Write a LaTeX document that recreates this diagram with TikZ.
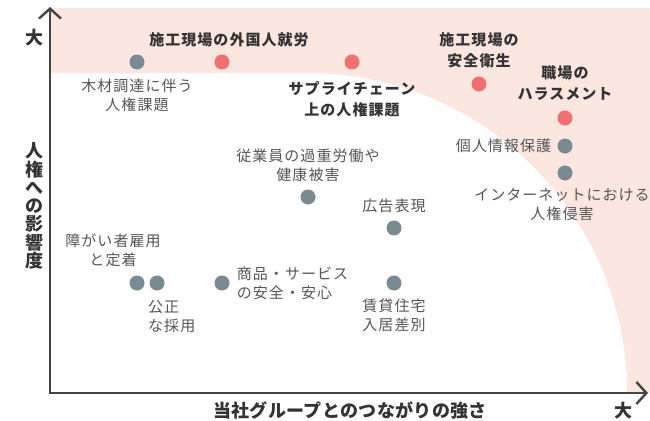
\documentclass[tikz,border=0pt]{standalone}
\usepackage{xcolor}
\usepackage{fontspec}
\setmainfont{Noto Sans CJK JP}
\newfontfamily\jpfont[LetterSpace=7]{Noto Sans CJK JP}
\newfontfamily\jpaxisfont[LetterSpace=2]{Noto Sans CJK JP}
\usepackage{tikz}
\usetikzlibrary{positioning,arrows.meta}

\definecolor{riskpink}{HTML}{FCE6E0}
\definecolor{dotgray}{HTML}{7A8A93}
\definecolor{dotred}{HTML}{F07070}
\definecolor{textgray}{HTML}{555555}
\definecolor{textdark}{HTML}{333333}
\definecolor{axisgray}{HTML}{444444}

\begin{document}
\begin{tikzpicture}[x=1pt, y=-1pt,
				graydot/.style={circle, fill=dotgray, minimum size=15pt, inner sep=0pt},
				reddot/.style={circle, fill=dotred, minimum size=15pt, inner sep=0pt},
				issue/.style={align=center, inner sep=0pt, text=textgray, font=\jpfont\fontsize{15}{19}\selectfont},
				keyissue/.style={align=center, inner sep=0pt, text=textdark, font=\jpfont\bfseries\fontsize{15}{20.5}\selectfont},
				axislabel/.style={inner sep=0pt, text=textdark, font=\jpaxisfont\bfseries\fontsize{18}{18.3}\selectfont},
				axisline/.style={draw=axisgray, line width=2.4pt, {Straight Barb[length=10pt, width=22pt]}-{Straight Barb[length=10pt, width=22pt]}},
				node distance = 7.5pt,
				]
				\useasboundingbox (0,0) rectangle (650,420);
				
				%Zone
				\fill[riskpink] (50,8) -- (650,8) -- (650,393) -- (627,393) arc[start angle=0, end angle=90, radius=320pt] -- (50,73) -- cycle;
				
				%Axes
				\coordinate (ytop) at (50,7);
				\coordinate (origin) at (50,393);
				\coordinate (xend) at (648,393);
				\draw[axisline] (ytop) -- (origin) -- (xend);
				
				\node[axislabel] (ybig) at (34,38) {大};
				\node[axislabel] (xbig) at (623,411) {大};
				\node[axislabel, align=center] (ylabel) at (34,206) {人\\権\\へ\\の\\影\\響\\度};
				\node[axislabel] (xlabel) at (350,410) {当社グループとのつながりの強さ};
				
				%Nodes
				\node[graydot] (wood) at (137,62) {};
				\node[reddot] (foreign) at (222,62) {};
				\node[reddot] (supply) at (352,62) {};
				\node[reddot] (safety) at (479,84) {};
				\node[reddot] (harass) at (565,118) {};
				\node[graydot] (privacy) at (565,146) {};
				\node[graydot] (internet) at (565,173) {};
				\node[graydot] (overwork) at (308,197) {};
				\node[graydot] (advert) at (394,228) {};
				\node[graydot] (housing) at (394,283) {};
				\node[graydot] (disabled) at (137,283) {};
				\node[graydot] (hiring) at (157,283) {};
				\node[graydot] (product) at (222,283) {};
				
				%Labels
				\node[keyissue, above=7pt of foreign, xshift=7pt] (foreignlbl) {施工現場の外国人就労};
				\node[issue, below=9pt of wood] (woodlbl) {木材調達に伴う\\人権課題};
				\node[keyissue, below=12pt of supply] (supplylbl) {サプライチェーン\\上の人権課題};
				\node[keyissue, above=8.5pt of safety] (safetylbl) {施工現場の\\安全衛生};
				\node[keyissue, above=10pt of harass] (harasslbl) {職場の\\ハラスメント};
				\node[issue, left=6pt of privacy] (privacylbl) {個人情報保護};
				\node[issue, below=of internet, xshift=-3pt] (internetlbl) {インターネットにおける\\人権侵害};
				\node[issue, above=of overwork] (overworklbl) {従業員の過重労働や\\健康被害};
				\node[issue, above=of advert] (advertlbl) {広告表現};
				\node[issue, below=of housing] (housinglbl) {賃貸住宅\\入居差別};
				\node[issue, above=8.5pt of disabled, xshift=-24pt] (disabledlbl) {障がい者雇用\\と定着};
				\node[issue, align=left, below=9pt of hiring.south, anchor=north west, xshift=-9pt] (hiringlbl) {公正\\な採用};
				\node[issue, align=left, right=7pt of product] (productlbl) {商品・サービス\\の安全・安心};
				
			\end{tikzpicture}
\end{document}
